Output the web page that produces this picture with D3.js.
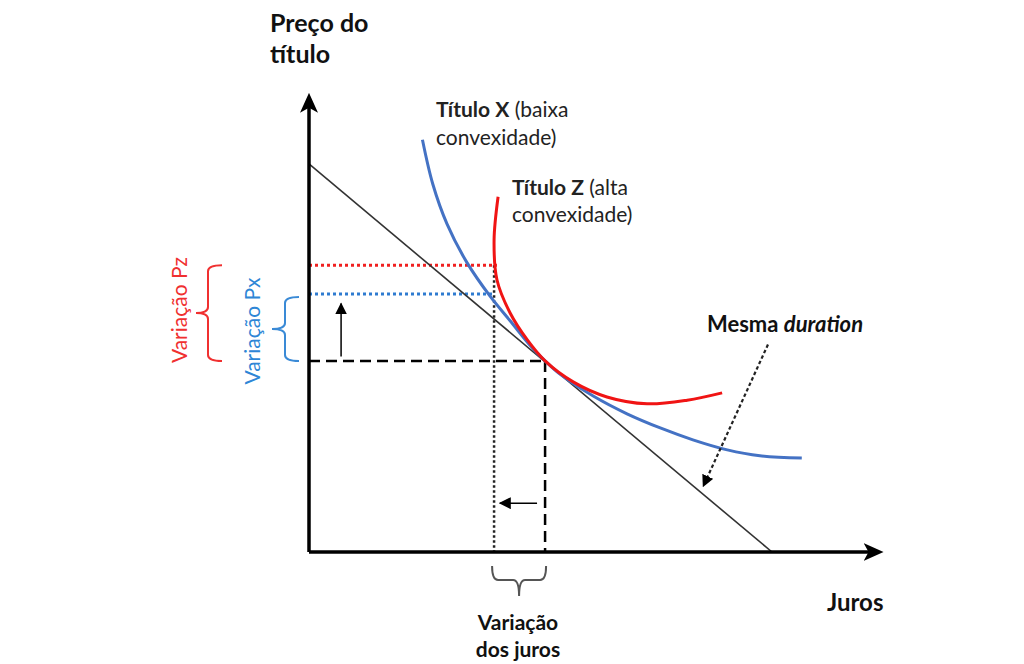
<!DOCTYPE html>
<html>
<head>
<meta charset="utf-8">
<script src="https://cdn.jsdelivr.net/npm/d3@7"></script>
<style>
  body { margin: 0; background: #fff; }
  text { font-family: Lato, "Open Sans", sans-serif; }
</style>
</head>
<body>
<svg id="chart"></svg>
<script>
// Título X (baixa convexidade): juros -> preço
const xRate  = [1.98, 2.16, 2.41, 2.76, 3.16, 3.51, 3.86, 4.12, 4.38, 4.96, 5.55, 6.13, 6.70, 7.30, 7.87, 8.60];
const xPrice = [9.04, 8.07, 7.19, 6.34, 5.61, 5.07, 4.53, 4.19, 3.90, 3.42, 3.03, 2.72, 2.46, 2.24, 2.11, 2.06];
// Título Z (alta convexidade)
const zRate  = [3.30, 3.23, 3.28, 3.51, 3.81, 4.12, 4.61, 5.20, 5.90, 6.60, 7.21];
const zPrice = [7.79, 6.84, 5.97, 5.24, 4.65, 4.19, 3.73, 3.40, 3.25, 3.33, 3.49];
// mesma duration (reta tangente)
const durRate  = [0, 8.08];
const durPrice = [8.51, 0];
// pontos de referência
const rateOld = 4.12, rateNew = 3.23;
const priceOld = 4.19, priceX = 5.66, priceZ = 6.29;
const axisMax = [9.94, 9.96];

const W = 1024, H = 664;
const svg = d3.select('#chart').attr('width', W).attr('height', H);

const x = d3.scaleLinear().domain([0, 10]).range([309, 882]);
const y = d3.scaleLinear().domain([0, 10]).range([552, 96]);

const defs = svg.append('defs');
defs.append('marker').attr('id', 'axisArrow')
    .attr('viewBox', '0 -9 20 18').attr('refX', 15).attr('refY', 0)
    .attr('markerWidth', 20).attr('markerHeight', 18)
    .attr('markerUnits', 'userSpaceOnUse').attr('orient', 'auto')
  .append('path').attr('d', 'M0,-9L20,0L0,9L5,0Z').attr('fill', '#000');
defs.append('marker').attr('id', 'smallArrow')
    .attr('viewBox', '0 -6 12 12').attr('refX', 11).attr('refY', 0)
    .attr('markerWidth', 12).attr('markerHeight', 12)
    .attr('markerUnits', 'userSpaceOnUse').attr('orient', 'auto')
  .append('path').attr('d', 'M0,-6L12,0L0,6Z').attr('fill', '#000');

const line = d3.line().x(d => x(d[0])).y(d => y(d[1]));
const curve = d3.line().x(d => x(d[0])).y(d => y(d[1])).curve(d3.curveCatmullRom.alpha(0.5));

// reference dotted / dashed lines
svg.append('path').attr('d', line([[0, priceZ], [rateNew + 0.05, priceZ]]))
    .attr('stroke', '#f02020').attr('stroke-width', 3).attr('stroke-dasharray', '3,3').attr('fill', 'none');
svg.append('path').attr('d', line([[0, priceX], [rateNew, priceX]]))
    .attr('stroke', '#2e7bd0').attr('stroke-width', 3).attr('stroke-dasharray', '3,3').attr('fill', 'none');
svg.append('path').attr('d', line([[rateNew, priceZ], [rateNew, 0]]))
    .attr('stroke', '#222').attr('stroke-width', 2.5).attr('stroke-dasharray', '2.5,2.5').attr('fill', 'none');
svg.append('path').attr('d', line([[0, priceOld], [rateOld, priceOld]]))
    .attr('stroke', '#000').attr('stroke-width', 2.5).attr('stroke-dasharray', '11,6').attr('fill', 'none');
svg.append('path').attr('d', line([[rateOld, priceOld], [rateOld, 0]]))
    .attr('stroke', '#000').attr('stroke-width', 2.5).attr('stroke-dasharray', '11,6').attr('fill', 'none');

// duration line
svg.append('path').attr('d', line(d3.zip(durRate, durPrice)))
    .attr('stroke', '#333').attr('stroke-width', 1.6).attr('fill', 'none');

// curves
svg.append('path').attr('d', curve(d3.zip(xRate, xPrice)))
    .attr('stroke', '#4472c4').attr('stroke-width', 3).attr('fill', 'none');
svg.append('path').attr('d', curve(d3.zip(zRate, zPrice)))
    .attr('stroke', '#f01414').attr('stroke-width', 3).attr('fill', 'none');

// axes
svg.append('path').attr('d', line([[0, 0], [axisMax[0], 0]]))
    .attr('stroke', '#000').attr('stroke-width', 3.5).attr('marker-end', 'url(#axisArrow)');
svg.append('path').attr('d', line([[0, 0], [0, axisMax[1]]]))
    .attr('stroke', '#000').attr('stroke-width', 3.5).attr('marker-end', 'url(#axisArrow)');

// small arrows
svg.append('path').attr('d', line([[0.56, 4.29], [0.56, 5.45]]))
    .attr('stroke', '#000').attr('stroke-width', 1.5).attr('marker-end', 'url(#smallArrow)');
svg.append('path').attr('d', line([[3.98, 1.07], [3.33, 1.07]]))
    .attr('stroke', '#000').attr('stroke-width', 1.5).attr('marker-end', 'url(#smallArrow)');
svg.append('path').attr('d', line([[8.01, 4.55], [6.88, 1.44]]))
    .attr('stroke', '#222').attr('stroke-width', 2.2).attr('stroke-dasharray', '3.5,2.5')
    .attr('marker-end', 'url(#smallArrow)');

// braces
function vBrace(xv, y0, y1, w, nib, color) {
  const ym = (y0 + y1) / 2, r = 6;
  const p = d3.path();
  p.moveTo(xv + w, y0);
  p.quadraticCurveTo(xv, y0, xv, y0 + r);
  p.lineTo(xv, ym - r);
  p.quadraticCurveTo(xv, ym, xv - nib, ym);
  p.quadraticCurveTo(xv, ym, xv, ym + r);
  p.lineTo(xv, y1 - r);
  p.quadraticCurveTo(xv, y1, xv + w, y1);
  svg.append('path').attr('d', p.toString()).attr('stroke', color)
     .attr('stroke-width', 2).attr('fill', 'none');
}
function hBrace(x0, x1, yv, h, nib, color) {
  const xm = (x0 + x1) / 2, r = 6;
  const p = d3.path();
  p.moveTo(x0, yv - h);
  p.quadraticCurveTo(x0, yv, x0 + r, yv);
  p.lineTo(xm - r, yv);
  p.quadraticCurveTo(xm, yv, xm, yv + nib);
  p.quadraticCurveTo(xm, yv, xm + r, yv);
  p.lineTo(x1 - r, yv);
  p.quadraticCurveTo(x1, yv, x1, yv - h);
  svg.append('path').attr('d', p.toString()).attr('stroke', color)
     .attr('stroke-width', 2).attr('fill', 'none');
}
vBrace(208, y(priceZ), y(priceOld), 14, 12, '#f03030');
vBrace(285, y(priceX) + 3, y(priceOld), 14, 13, '#3a8ad6');
hBrace(x(rateNew) - 2, x(rateOld) + 1, 580, 14, 16, '#555');

// texts
function label(tx, ty, parts, size, opts = {}) {
  const t = svg.append('text').attr('x', tx).attr('y', ty)
    .attr('font-size', size).attr('fill', opts.color || '#111')
    .attr('text-anchor', opts.anchor || 'start');
  if (opts.rotate) t.attr('transform', `rotate(-90,${tx},${ty})`);
  parts.forEach(p => {
    t.append('tspan').text(p.t)
      .attr('font-weight', p.b ? 700 : 400)
      .attr('font-style', p.i ? 'italic' : 'normal');
  });
  return t;
}
label(270, 32, [{t: 'Preço do', b: 1}], 25);
label(270, 63, [{t: 'título', b: 1}], 25);
label(436, 117, [{t: 'Título X', b: 1}, {t: ' (baixa'}], 21, {color: '#222'});
label(436, 145, [{t: 'convexidade)'}], 21, {color: '#222'});
label(512, 195, [{t: 'Título Z', b: 1}, {t: ' (alta'}], 21, {color: '#222'});
label(512, 222, [{t: 'convexidade)'}], 21, {color: '#222'});
label(707, 332, [{t: 'Mesma ', b: 1}, {t: 'duration', b: 1, i: 1}], 22);
label(827, 611, [{t: 'Juros', b: 1}], 24);
label(518, 630, [{t: 'Variação', b: 1}], 21, {anchor: 'middle'});
label(518, 657, [{t: 'dos juros', b: 1}], 21, {anchor: 'middle'});
label(187, 310, [{t: 'Variação Pz'}], 21, {color: '#f03030', anchor: 'middle', rotate: 1});
label(260, 331, [{t: 'Variação Px'}], 21, {color: '#2e86d6', anchor: 'middle', rotate: 1});
</script>
</body>
</html>
